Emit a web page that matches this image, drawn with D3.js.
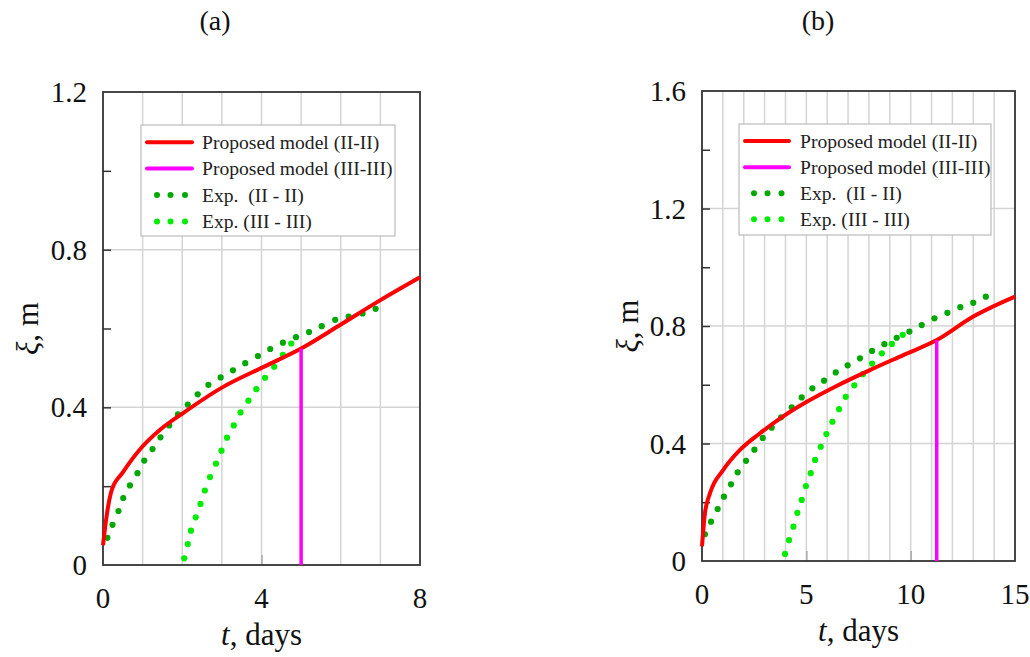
<!DOCTYPE html>
<html>
<head>
<meta charset="utf-8">
<script src="https://cdn.jsdelivr.net/npm/d3@7"></script>
<style>
  html, body { margin: 0; padding: 0; background: #fff; }
  svg { display: block; font-family: "Liberation Serif", "Times New Roman", serif; }
</style>
</head>
<body>
<svg id="chart" width="1030" height="657"></svg>
<script>
// ---------- Data: panel (a) ----------
const aModelT   = [0, 0.1, 0.22, 0.5, 0.93, 1.44, 2.03, 3.0, 4.0, 5.0, 6.0, 7.0, 8.0];
const aModelXi  = [0.05, 0.13, 0.19, 0.235, 0.293, 0.343, 0.386, 0.45, 0.50, 0.549, 0.61, 0.672, 0.73];
const aCutT     = [5.0, 5.0];
const aCutXi    = [0, 0.549];
const aExp2T    = [0.11, 0.24, 0.39, 0.51, 0.68, 0.87, 1.04, 1.25, 1.45, 1.67, 1.89, 2.14, 2.39, 2.66, 2.97, 3.28, 3.59, 3.91, 4.22, 4.54, 4.87, 5.2, 5.52, 5.86, 6.2, 6.55, 6.88];
const aExp2Xi   = [0.069, 0.102, 0.137, 0.17, 0.202, 0.233, 0.265, 0.294, 0.324, 0.354, 0.382, 0.407, 0.433, 0.457, 0.476, 0.494, 0.512, 0.53, 0.548, 0.564, 0.578, 0.591, 0.606, 0.622, 0.63, 0.638, 0.65];
const aExp3T    = [2.05, 2.14, 2.22, 2.34, 2.46, 2.57, 2.70, 2.85, 2.99, 3.13, 3.30, 3.47, 3.67, 3.87, 4.09, 4.32, 4.54, 4.75];
const aExp3Xi   = [0.017, 0.053, 0.087, 0.121, 0.155, 0.189, 0.223, 0.257, 0.29, 0.323, 0.354, 0.387, 0.417, 0.446, 0.475, 0.503, 0.533, 0.562];
const aXTicks   = [0, 4, 8];
const aYTicks   = [0, 0.4, 0.8, 1.2];

// ---------- Data: panel (b) ----------
const bModelT   = [0, 0.14, 0.38, 1.02, 1.82, 2.78, 3.82, 5.02, 6.45, 8.05, 9.65, 11.25, 13.0, 15.0];
const bModelXi  = [0.05, 0.162, 0.23, 0.31, 0.378, 0.435, 0.489, 0.542, 0.596, 0.65, 0.701, 0.752, 0.832, 0.9];
const bCutT     = [11.25, 11.25];
const bCutXi    = [0, 0.752];
const bExp2T    = [0.14, 0.43, 0.75, 1.05, 1.39, 1.71, 2.11, 2.51, 2.91, 3.34, 3.79, 4.30, 4.78, 5.29, 5.85, 6.41, 6.98, 7.57, 8.15, 8.74, 9.33, 9.94, 10.53, 11.14, 11.76, 12.38, 13.0, 13.6];
const bExp2Xi   = [0.091, 0.134, 0.177, 0.219, 0.261, 0.302, 0.341, 0.379, 0.419, 0.454, 0.489, 0.523, 0.557, 0.588, 0.614, 0.642, 0.666, 0.69, 0.715, 0.738, 0.76, 0.781, 0.803, 0.826, 0.845, 0.864, 0.879, 0.9];
const bExp3T    = [3.98, 4.17, 4.38, 4.57, 4.78, 4.98, 5.21, 5.42, 5.69, 5.96, 6.25, 6.57, 6.89, 7.30, 7.71, 8.15, 8.62, 9.10, 9.62];
const bExp3Xi   = [0.024, 0.071, 0.117, 0.164, 0.208, 0.255, 0.299, 0.344, 0.389, 0.432, 0.474, 0.517, 0.559, 0.598, 0.636, 0.672, 0.707, 0.739, 0.77];
const bXTicks   = [0, 5, 10, 15];
const bYTicks   = [0, 0.4, 0.8, 1.2, 1.6];

const legendLabels = ["Proposed model (II-II)", "Proposed model (III-III)", "Exp.  (II - II)", "Exp. (III - III)"];
const panelLabels  = ["(a)", "(b)"];

// ---------- Styling ----------
const C_RED = "#ff0000", C_MAG = "#ff00ff", C_DG = "#00a800", C_LG = "#00ec00";

const zip = (xs, ys) => xs.map((x, i) => ({ t: x, v: ys[i] }));

const panels = [
  {
    label: panelLabels[0], labelX: 215,
    box: { l: 103, r: 420, t: 92, b: 565 },
    xMax: 8, yMax: 1.2, xTicks: aXTicks, yTicks: aYTicks,
    model: zip(aModelT, aModelXi), cut: zip(aCutT, aCutXi),
    exp2: zip(aExp2T, aExp2Xi), exp3: zip(aExp3T, aExp3Xi),
    legend: { x: 141, y: 125, w: 254, h: 111, rows: [142.3, 168.5, 195, 221.5], lx1: 147, lx2: 192, tx: 202, dots: [157, 170.5, 185] },
    yTitleX: 38
  },
  {
    label: panelLabels[1], labelX: 818,
    box: { l: 702, r: 1015, t: 91, b: 561 },
    xMax: 15, yMax: 1.6, xTicks: bXTicks, yTicks: bYTicks,
    model: zip(bModelT, bModelXi), cut: zip(bCutT, bCutXi),
    exp2: zip(bExp2T, bExp2Xi), exp3: zip(bExp3T, bExp3Xi),
    legend: { x: 739, y: 124, w: 252, h: 111, rows: [141, 167.3, 193.3, 219.3], lx1: 745, lx2: 789, tx: 800, dots: [754, 767.5, 781.5] },
    yTitleX: 638
  }
];

const svg = d3.select("#chart");

panels.forEach(p => {
  const g = svg.append("g");
  const x = d3.scaleLinear().domain([0, p.xMax]).range([p.box.l, p.box.r]);
  const y = d3.scaleLinear().domain([0, p.yMax]).range([p.box.b, p.box.t]);

  // vertical gridlines every day
  g.append("g").selectAll("line").data(d3.range(1, p.xMax)).join("line")
    .attr("x1", d => x(d)).attr("x2", d => x(d))
    .attr("y1", p.box.t).attr("y2", p.box.b)
    .attr("stroke", "#d4d4d4").attr("stroke-width", 1.5);
  // horizontal gridlines at labelled values
  g.append("g").selectAll("line").data(p.yTicks.filter(v => v > 0 && v < p.yMax)).join("line")
    .attr("x1", p.box.l).attr("x2", p.box.r)
    .attr("y1", d => y(d)).attr("y2", d => y(d))
    .attr("stroke", "#d4d4d4").attr("stroke-width", 1.5);

  // y-axis inward minor ticks every 0.2
  const yMinor = d3.range(0.2, p.yMax - 0.01, 0.2);
  const yAxis = d3.axisRight(y).tickValues(yMinor).tickSize(8).tickFormat("");
  const ya = g.append("g").attr("transform", `translate(${p.box.l},0)`).call(yAxis);
  ya.select(".domain").remove();
  ya.selectAll(".tick line").attr("stroke", "#333").attr("stroke-width", 1.5);

  // x-axis inward ticks at labelled values
  const xAxis = d3.axisTop(x).tickValues(p.xTicks.filter(v => v > 0 && v < p.xMax)).tickSize(10).tickFormat("");
  const xa = g.append("g").attr("transform", `translate(0,${p.box.b})`).call(xAxis);
  xa.select(".domain").remove();
  xa.selectAll(".tick line").attr("stroke", "#aaa").attr("stroke-width", 1.5);

  // tick labels
  g.append("g").selectAll("text").data(p.yTicks).join("text")
    .attr("x", p.box.l - 16).attr("y", d => y(d)).attr("dy", "0.35em")
    .attr("text-anchor", "end").attr("font-size", 29).attr("fill", "#111")
    .text(d => d === 0 ? "0" : d3.format(".1f")(d));
  g.append("g").selectAll("text").data(p.xTicks).join("text")
    .attr("x", d => x(d)).attr("y", p.box.b + 43)
    .attr("text-anchor", "middle").attr("font-size", 29).attr("fill", "#111")
    .text(d => d);

  // frame
  g.append("rect").attr("x", p.box.l).attr("y", p.box.t)
    .attr("width", p.box.r - p.box.l).attr("height", p.box.b - p.box.t)
    .attr("fill", "none").attr("stroke", "#333").attr("stroke-width", 1.8);

  // series
  const clipId = "clip" + p.label.replace(/\W/g, "");
  svg.append("clipPath").attr("id", clipId).append("rect")
    .attr("x", p.box.l - 3).attr("y", p.box.t).attr("width", p.box.r - p.box.l + 6).attr("height", p.box.b - p.box.t + 3);
  const data = g.append("g").attr("clip-path", `url(#${clipId})`);

  data.append("g").selectAll("circle").data(p.exp2).join("circle")
    .attr("cx", d => x(d.t)).attr("cy", d => y(d.v)).attr("r", 3.1).attr("fill", C_DG);
  data.append("g").selectAll("circle").data(p.exp3).join("circle")
    .attr("cx", d => x(d.t)).attr("cy", d => y(d.v)).attr("r", 3.1).attr("fill", C_LG);

  const line = d3.line().x(d => x(d.t)).y(d => y(d.v)).curve(d3.curveMonotoneX);
  data.append("path").datum(p.model).attr("d", line)
    .attr("fill", "none").attr("stroke", C_RED).attr("stroke-width", 4).attr("stroke-linejoin", "round");
  data.append("path").datum(p.cut).attr("d", d3.line().x(d => x(d.t)).y(d => y(d.v)))
    .attr("fill", "none").attr("stroke", C_MAG).attr("stroke-width", 3.5);

  // legend
  const L = p.legend;
  const lg = g.append("g");
  lg.append("rect").attr("x", L.x).attr("y", L.y).attr("width", L.w).attr("height", L.h)
    .attr("fill", "#fff").attr("stroke", "#bbb").attr("stroke-width", 1.2);
  lg.append("line").attr("x1", L.lx1).attr("x2", L.lx2).attr("y1", L.rows[0]).attr("y2", L.rows[0])
    .attr("stroke", C_RED).attr("stroke-width", 4).attr("stroke-linecap", "round");
  lg.append("line").attr("x1", L.lx1).attr("x2", L.lx2).attr("y1", L.rows[1]).attr("y2", L.rows[1])
    .attr("stroke", C_MAG).attr("stroke-width", 4).attr("stroke-linecap", "round");
  [[2, C_DG], [3, C_LG]].forEach(([ri, col]) => {
    lg.append("g").selectAll("circle").data(L.dots).join("circle")
      .attr("cx", d => d).attr("cy", L.rows[ri]).attr("r", 3).attr("fill", col);
  });
  lg.append("g").selectAll("text").data(legendLabels).join("text")
    .attr("x", L.tx).attr("y", (d, i) => L.rows[i]).attr("dy", "0.35em")
    .attr("font-size", 19.6).attr("fill", "#222")
    .style("white-space", "pre").attr("xml:space", "preserve")
    .text(d => d);

  // axis titles
  const xt = g.append("text").attr("x", (p.box.l + p.box.r) / 2).attr("y", p.box.b + 80)
    .attr("text-anchor", "middle").attr("font-size", 31).attr("fill", "#111");
  xt.append("tspan").attr("font-style", "italic").text("t");
  xt.append("tspan").text(", days");

  const yt = g.append("text")
    .attr("transform", `translate(${p.yTitleX},${(p.box.t + p.box.b) / 2}) rotate(-90)`)
    .attr("text-anchor", "middle").attr("font-size", 31).attr("fill", "#111");
  yt.append("tspan").attr("font-style", "italic").text("ξ");
  yt.append("tspan").text(", m");

  // panel label
  g.append("text").attr("x", p.labelX).attr("y", 30).attr("text-anchor", "middle")
    .attr("font-size", 28).attr("fill", "#111").text(p.label);
});
</script>
</body>
</html>
